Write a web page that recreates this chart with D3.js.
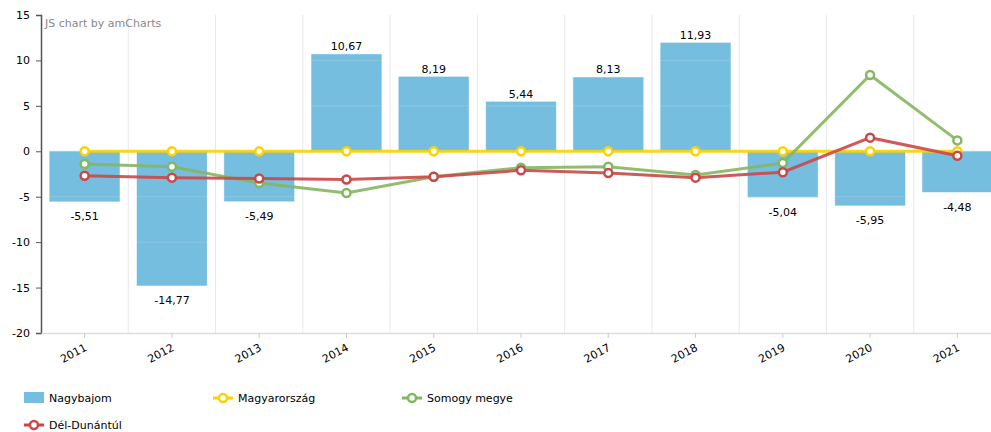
<!DOCTYPE html>
<html>
<head>
<meta charset="utf-8">
<script src="https://cdn.jsdelivr.net/npm/d3@7"></script>
<style>
  body { margin: 0; background: #fff; }
  svg { font-family: Verdana, "DejaVu Sans", sans-serif; }
</style>
</head>
<body>
<svg id="chart" width="991" height="432"></svg>
<script>
const years = ['2011', '2012', '2013', '2014', '2015', '2016', '2017', '2018', '2019', '2020', '2021'];
const nagybajom = [-5.51, -14.77, -5.49, 10.67, 8.19, 5.44, 8.13, 11.93, -5.04, -5.95, -4.48];
const magyarorszag = [0, 0, 0, 0, 0, 0, 0, 0, 0, 0, 0];
const somogy = [-1.4, -1.7, -3.5, -4.6, -2.8, -1.8, -1.7, -2.6, -1.3, 8.4, 1.2];
const delDunantul = [-2.7, -2.9, -3.0, -3.1, -2.8, -2.1, -2.4, -2.9, -2.3, 1.5, -0.5];
const yTicks = [15, 10, 5, 0, -5, -10, -15, -20];

const width = 991;
const margin = { top: 15, left: 41, bottom: 333, right: 1001 };

const svg = d3.select('#chart');

const x = d3.scaleBand()
    .domain(years)
    .range([margin.left, margin.right])
    .paddingInner(0.2)
    .paddingOuter(0.1);

const xBand = d3.scaleBand()
    .domain(years)
    .range([margin.left, margin.right]);

const y = d3.scaleLinear()
    .domain([-20, 15])
    .range([margin.bottom, margin.top]);

const fmt = v => v.toFixed(2).replace('.', ',');

// vertical grid at category boundaries
svg.append('g')
    .selectAll('line')
    .data(years.slice(1))
    .enter()
    .append('line')
    .attr('x1', d => xBand(d))
    .attr('x2', d => xBand(d))
    .attr('y1', margin.top)
    .attr('y2', margin.bottom)
    .attr('stroke', '#e8e8e8');

// bars
svg.append('g')
    .selectAll('rect')
    .data(years)
    .enter()
    .append('rect')
    .attr('x', (d, i) => x(d))
    .attr('width', x.bandwidth())
    .attr('y', (d, i) => y(Math.max(0, nagybajom[i])))
    .attr('height', (d, i) => Math.abs(y(nagybajom[i]) - y(0)))
    .attr('fill', '#67b7dc')
    .attr('fill-opacity', 0.9)
    .attr('stroke', '#67b7dc')
    .attr('stroke-opacity', 0.4);

// horizontal grid, faint over bars
svg.append('g')
    .selectAll('line')
    .data(yTicks)
    .enter()
    .append('line')
    .attr('x1', margin.left)
    .attr('x2', width)
    .attr('y1', d => y(d))
    .attr('y2', d => y(d))
    .attr('stroke', '#fff')
    .attr('stroke-opacity', 0.15);

// bar labels
svg.append('g')
    .selectAll('text')
    .data(years)
    .enter()
    .append('text')
    .attr('x', d => x(d) + x.bandwidth() / 2)
    .attr('y', (d, i) => nagybajom[i] >= 0 ? y(nagybajom[i]) - 4 : y(nagybajom[i]) + 19)
    .attr('text-anchor', 'middle')
    .attr('font-size', 11)
    .attr('fill', '#000')
    .text((d, i) => fmt(nagybajom[i]));

// axes
const yAxis = svg.append('g')
    .attr('transform', `translate(${margin.left},0)`)
    .call(d3.axisLeft(y).tickValues(yTicks).tickSize(5).tickPadding(6).tickFormat(d => String(d)));
yAxis.select('.domain').attr('stroke', '#555').attr('stroke-width', 1.5);
yAxis.selectAll('.tick line').attr('stroke', '#555');
yAxis.selectAll('text').attr('font-size', 11).attr('fill', '#000')
    .attr('font-family', 'Verdana, "DejaVu Sans", sans-serif');

const xAxis = svg.append('g')
    .attr('transform', `translate(0,${margin.bottom})`)
    .call(d3.axisBottom(xBand).tickSize(5).tickSizeOuter(0));
xAxis.select('.domain').attr('stroke', '#ddd').attr('stroke-width', 1.5);
xAxis.selectAll('.tick line').attr('stroke', '#ccc');
xAxis.selectAll('text')
    .attr('font-size', 11)
    .attr('fill', '#000')
    .attr('font-family', 'Verdana, "DejaVu Sans", sans-serif')
    .attr('text-anchor', 'end')
    .attr('y', 0)
    .attr('dy', null)
    .attr('transform', 'translate(3,17) rotate(-28)');

svg.append('text')
    .attr('x', 45)
    .attr('y', 27)
    .attr('font-size', 11)
    .attr('fill', '#888')
    .text('JS chart by amCharts');

// line series
const series = [
    { name: 'Magyarország', values: magyarorszag, color: '#fcd202' },
    { name: 'Somogy megye', values: somogy, color: '#84b761' },
    { name: 'Dél-Dunántúl', values: delDunantul, color: '#cc4748' }
];

const cx = d => xBand(d) + xBand.bandwidth() / 2;
const line = d3.line()
    .x(d => cx(d.year))
    .y(d => y(d.value));

series.forEach(s => {
    const pts = years.map((yr, i) => ({ year: yr, value: s.values[i] }));
    const g = svg.append('g');
    g.append('path')
        .datum(pts)
        .attr('d', line)
        .attr('fill', 'none')
        .attr('stroke', s.color)
        .attr('stroke-width', 3)
        .attr('stroke-opacity', 0.9);
    g.selectAll('circle')
        .data(pts)
        .enter()
        .append('circle')
        .attr('cx', d => cx(d.year))
        .attr('cy', d => y(d.value))
        .attr('r', 4)
        .attr('fill', '#fff')
        .attr('stroke', s.color)
        .attr('stroke-width', 2.5);
});

// legend
const legendItems = [
    { name: 'Nagybajom', type: 'bar', color: '#67b7dc', lx: 24, ly: 398 },
    { name: 'Magyarország', type: 'line', color: '#fcd202', lx: 213, ly: 398 },
    { name: 'Somogy megye', type: 'line', color: '#84b761', lx: 402, ly: 398 },
    { name: 'Dél-Dunántúl', type: 'line', color: '#cc4748', lx: 24, ly: 425 }
];

const legend = svg.append('g');
legendItems.forEach(it => {
    const g = legend.append('g').attr('transform', `translate(${it.lx},${it.ly})`);
    if (it.type === 'bar') {
        g.append('rect').attr('x', 0).attr('y', -6).attr('width', 20).attr('height', 11)
            .attr('fill', it.color).attr('fill-opacity', 0.9);
    } else {
        g.append('line').attr('x1', 0).attr('x2', 20).attr('y1', 0).attr('y2', 0)
            .attr('stroke', it.color).attr('stroke-width', 3);
        g.append('circle').attr('cx', 10).attr('cy', 0).attr('r', 4)
            .attr('fill', '#fff').attr('stroke', it.color).attr('stroke-width', 2.5);
    }
    g.append('text').attr('x', 25).attr('y', 4)
        .attr('font-size', 11).attr('fill', '#000')
        .text(it.name);
});
</script>
</body>
</html>
